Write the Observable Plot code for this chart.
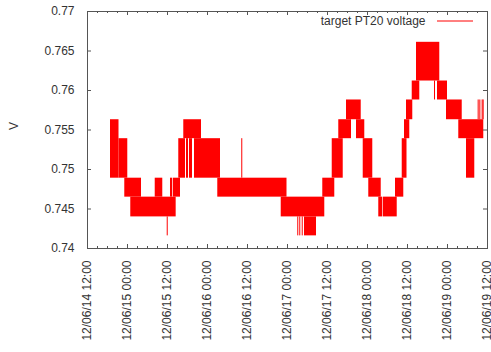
<!DOCTYPE html>
<html><head><meta charset="utf-8">
<script src="https://cdn.jsdelivr.net/npm/d3@7"></script>
<script src="https://cdn.jsdelivr.net/npm/@observablehq/plot@0.6"></script>
<style>body{margin:0;background:#fff;} svg{display:block;}</style>
</head><body><div id="chart"></div>
<script>
// ---- data ----
const seriesName = "target PT20 voltage";
const yLabel = "V";
const yTicks = [0.74, 0.745, 0.75, 0.755, 0.76, 0.765, 0.77];
const xTickLabels = ["12/06/14 12:00","12/06/15 00:00","12/06/15 12:00","12/06/16 00:00","12/06/16 12:00","12/06/17 00:00","12/06/17 12:00","12/06/18 00:00","12/06/18 12:00","12/06/19 00:00","12/06/19 12:00"];

// bands where the signal toggles quickly between ADC levels
const bandStart = ["12/06/14 18:54","12/06/14 21:27","12/06/14 23:11","12/06/15 00:59","12/06/15 08:19","12/06/15 13:43","12/06/15 15:23","12/06/15 17:42","12/06/15 18:36","12/06/15 16:53","12/06/15 20:06","12/06/16 03:05","12/06/16 22:07","12/06/17 05:24","12/06/17 10:35","12/06/17 13:25","12/06/17 15:23","12/06/17 17:42","12/06/17 20:42","12/06/17 22:43","12/06/18 00:23","12/06/18 03:23","12/06/18 04:48","12/06/18 08:24","12/06/18 10:25","12/06/18 11:06","12/06/18 11:42","12/06/18 13:25","12/06/18 14:42","12/06/18 21:00","12/06/18 23:42","12/06/19 03:23","12/06/19 05:42"];
const bandEnd   = ["12/06/14 21:27","12/06/15 00:05","12/06/15 04:12","12/06/15 14:36","12/06/15 10:35","12/06/15 15:54","12/06/15 17:24","12/06/15 18:18","12/06/15 19:30","12/06/15 22:12","12/06/16 03:54","12/06/16 23:51","12/06/17 11:11","12/06/17 08:42","12/06/17 14:11","12/06/17 16:43","12/06/17 19:12","12/06/17 22:07","12/06/17 23:11","12/06/18 01:35","12/06/18 04:07","12/06/18 04:36","12/06/18 08:55","12/06/18 10:53","12/06/18 11:51","12/06/18 12:41","12/06/18 13:35","12/06/18 15:41","12/06/18 21:41","12/06/19 00:00","12/06/19 04:25","12/06/19 10:53","12/06/19 08:11"];
const bandLow   = [0.7489,0.7489,0.7465,0.7440,0.7465,0.7465,0.7489,0.7489,0.7489,0.7539,0.7489,0.7465,0.7440,0.7416,0.7465,0.7489,0.7539,0.7563,0.7539,0.7489,0.7465,0.7440,0.7440,0.7465,0.7489,0.7539,0.7563,0.7588,0.7612,0.7588,0.7563,0.7539,0.7489];
const bandHigh  = [0.7563,0.7539,0.7489,0.7465,0.7489,0.7489,0.7539,0.7539,0.7539,0.7563,0.7539,0.7489,0.7465,0.7440,0.7489,0.7539,0.7563,0.7588,0.7563,0.7539,0.7489,0.7465,0.7465,0.7489,0.7539,0.7563,0.7588,0.7612,0.7661,0.7612,0.7588,0.7563,0.7539];

// single transitions (isolated spikes / thin strokes)
const lineTime = ["12/06/15 11:55","12/06/15 12:54","12/06/15 13:12","12/06/16 10:17","12/06/17 03:05","12/06/17 03:41","12/06/17 04:25","12/06/17 05:06","12/06/18 20:06","12/06/19 09:12","12/06/19 09:42","12/06/19 10:24","12/06/19 10:42"];
const lineLow  = [0.7416,0.7465,0.7465,0.7489,0.7416,0.7416,0.7416,0.7416,0.7588,0.7563,0.7563,0.7563,0.7563];
const lineHigh = [0.7440,0.7489,0.7489,0.7539,0.7440,0.7440,0.7440,0.7440,0.7612,0.7588,0.7588,0.7588,0.7588];

// ---- build ----
const parse = d3.utcParse("%y/%m/%d %H:%M");
const fmt = d3.utcFormat("%y/%m/%d %H:%M");
const bands = bandStart.map((s, i) => ({x1: parse(s), x2: parse(bandEnd[i]), y1: bandLow[i], y2: bandHigh[i]}));
const lines = lineTime.map((t, i) => ({x: parse(t), y1: lineLow[i], y2: lineHigh[i]}));
const majorTicks = xTickLabels.map(parse);
const x0 = majorTicks[0], x1 = majorTicks[majorTicks.length - 1];
const minorTicks = d3.utcHour.every(3).range(x0, d3.utcHour.offset(x1, 1));

const W = 491, H = 352, mT = 11, mB = 104, mL = 87, mR = 4;
const pw = W - mL - mR, ph = H - mT - mB;
const axisColor = "#555", textColor = "#333", red = "#ff0000";

const chart = Plot.plot({
  width: W, height: H,
  marginTop: mT, marginBottom: mB, marginLeft: mL, marginRight: mR,
  style: {fontFamily: "'Liberation Sans', Arial, sans-serif", fontSize: "12px", color: textColor, background: "#fff"},
  x: {type: "utc", domain: [x0, x1]},
  y: {domain: [0.74, 0.77]},
  marks: [
    Plot.rect(bands, {x1: "x1", x2: "x2", y1: "y1", y2: "y2", fill: red}),
    Plot.ruleX(lines, {x: "x", y1: "y1", y2: "y2", stroke: red, strokeWidth: 1}),
    // inward ticks (gnuplot style, mirrored)
    Plot.ruleX(minorTicks, {stroke: axisColor, insetTop: ph - 2}),
    Plot.ruleX(minorTicks, {stroke: axisColor, insetBottom: ph - 2}),
    Plot.ruleX(majorTicks, {stroke: axisColor, insetTop: ph - 4}),
    Plot.ruleX(majorTicks, {stroke: axisColor, insetBottom: ph - 4}),
    Plot.ruleY(yTicks, {stroke: axisColor, insetRight: pw - 4}),
    Plot.ruleY(yTicks, {stroke: axisColor, insetLeft: pw - 4}),
    Plot.frame({stroke: axisColor}),
    Plot.axisY({ticks: yTicks, tickSize: 0, tickPadding: 13, tickFormat: d => String(d), label: null, fill: textColor}),
    Plot.axisX({ticks: majorTicks, tickSize: 0, tickPadding: 12, tickRotate: -90, tickFormat: fmt, label: null, fill: textColor}),
    Plot.text([yLabel], {frameAnchor: "left", dx: -73, rotate: -90, fill: textColor, fontSize: 12}),
    Plot.text([seriesName], {frameAnchor: "top-right", dx: -62, dy: 10, textAnchor: "end", lineAnchor: "middle", fill: textColor, fontSize: 12})
  ]
});
document.getElementById("chart").appendChild(chart);

// legend sample line
d3.select(chart).append("line")
  .attr("x1", mL + pw - 50).attr("x2", mL + pw - 14)
  .attr("y1", mT + 10).attr("y2", mT + 10)
  .attr("stroke", red).attr("stroke-width", 1);
</script>
</body></html>
